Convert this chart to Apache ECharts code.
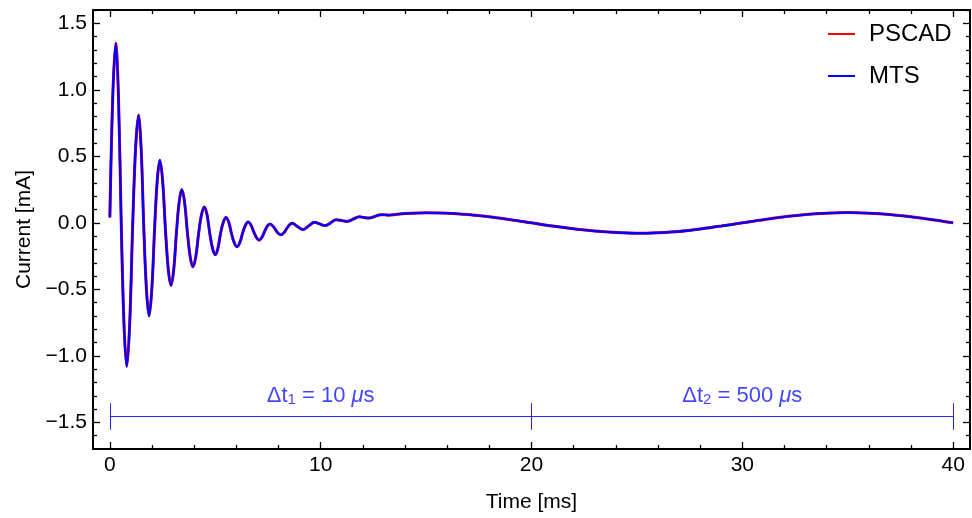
<!DOCTYPE html>
<html>
<head>
<meta charset="utf-8">
<script src="https://cdn.jsdelivr.net/npm/echarts@6/dist/echarts.min.js"></script>
<style>
html,body{margin:0;padding:0;background:#fff;}
#chart{width:972px;height:518px;}
</style>
</head>
<body>
<div id="chart"></div>
<script>
// ---- data ----
const timeMs = [
  0, 0.14, 0.28, 0.41, 0.54, 0.67, 0.80, 0.94, 1.08, 1.22, 1.36, 1.485, 1.61, 1.735, 1.86, 1.99,
  2.12, 2.245, 2.37, 2.505, 2.64, 2.77, 2.90, 3.03, 3.16, 3.285, 3.41, 3.545, 3.68, 3.81, 3.94, 4.075,
  4.21, 4.345, 4.48, 4.61, 4.74, 4.87, 5.00, 5.125, 5.25, 5.38, 5.51, 5.64, 5.77, 5.90, 6.03, 6.165,
  6.30, 6.43, 6.56, 6.69, 6.82, 6.95, 7.08, 7.21, 7.34, 7.465, 7.59, 7.72, 7.85, 7.98, 8.11, 8.245,
  8.38, 8.515, 8.65, 8.90, 9.16, 9.44, 9.70, 9.95, 10.21, 10.47, 10.73, 11.00, 11.26, 11.54, 11.83, 12.06,
  12.29, 12.57, 12.85, 13.05, 13.25, 13.6, 14, 15, 16, 17, 18, 19, 20, 21, 22, 23, 24, 25, 26, 27,
  28, 29, 30, 31, 32, 33, 34, 35, 36, 37, 38, 39, 40
];
const pscadCurrent = [
  0.04, 0.96, 1.35, 0.94, -0.01, -0.76, -1.08, -0.76, -0.03, 0.56, 0.81, 0.555, -0.04, -0.50, -0.70, -0.50,
  -0.05, 0.314, 0.47, 0.311, -0.06, -0.347, -0.47, -0.35, -0.07, 0.154, 0.25, 0.153, -0.075, -0.254, -0.33, -0.255,
  -0.08, 0.06, 0.12, 0.06, -0.08, -0.192, -0.24, -0.192, -0.08, 0.004, 0.04, 0.004, -0.08, -0.15, -0.18, -0.148,
  -0.075, -0.018, 0.006, -0.016, -0.065, -0.11, -0.13, -0.11, -0.065, -0.025, -0.008, -0.022, -0.05, -0.078, -0.09, -0.076,
  -0.045, -0.016, -0.003, -0.028, -0.05, -0.022, 0.005, -0.008, -0.02, 0.0, 0.024, 0.017, 0.011, 0.028, 0.046, 0.04,
  0.036, 0.048, 0.061, 0.06, 0.058, 0.064, 0.07, 0.075, 0.073, 0.062, 0.045, 0.024, 0.0, -0.024, -0.045, -0.062, -0.073, -0.078, -0.074, -0.065,
  -0.046, -0.024, 0.0, 0.024, 0.045, 0.062, 0.073, 0.077, 0.073, 0.062, 0.045, 0.024, 0.0
];
// MTS overlaps PSCAD everywhere at this resolution
const mtsCurrent = [
  0.04, 0.96, 1.35, 0.94, -0.01, -0.76, -1.08, -0.76, -0.03, 0.56, 0.81, 0.555, -0.04, -0.50, -0.70, -0.50,
  -0.05, 0.314, 0.47, 0.311, -0.06, -0.347, -0.47, -0.35, -0.07, 0.154, 0.25, 0.153, -0.075, -0.254, -0.33, -0.255,
  -0.08, 0.06, 0.12, 0.06, -0.08, -0.192, -0.24, -0.192, -0.08, 0.004, 0.04, 0.004, -0.08, -0.15, -0.18, -0.148,
  -0.075, -0.018, 0.006, -0.016, -0.065, -0.11, -0.13, -0.11, -0.065, -0.025, -0.008, -0.022, -0.05, -0.078, -0.09, -0.076,
  -0.045, -0.016, -0.003, -0.028, -0.05, -0.022, 0.005, -0.008, -0.02, 0.0, 0.024, 0.017, 0.011, 0.028, 0.046, 0.04,
  0.036, 0.048, 0.061, 0.06, 0.058, 0.064, 0.07, 0.075, 0.073, 0.062, 0.045, 0.024, 0.0, -0.024, -0.045, -0.062, -0.073, -0.078, -0.074, -0.065,
  -0.046, -0.024, 0.0, 0.024, 0.045, 0.062, 0.073, 0.077, 0.073, 0.062, 0.045, 0.024, 0.0
];
const seriesNames = ['PSCAD', 'MTS'];
const xMajorTicks = [0, 10, 20, 30, 40];
const xMinorTicks = [2, 4, 6, 8, 12, 14, 16, 18, 22, 24, 26, 28, 32, 34, 36, 38];
const yMajorTicks = [-1.5, -1.0, -0.5, 0.0, 0.5, 1.0, 1.5];
const yMinorTicks = [-1.6, -1.4, -1.3, -1.2, -1.1, -0.9, -0.8, -0.7, -0.6, -0.4, -0.3, -0.2, -0.1,
  0.1, 0.2, 0.3, 0.4, 0.6, 0.7, 0.8, 0.9, 1.1, 1.2, 1.3, 1.4, 1.6];
// step-size annotation
const stepBounds = [0, 20, 40];
const stepLabels = [['1', '10'], ['2', '500']];
const stepBarY = -1.456;
const stepTickHalf = 0.1;
const stepLabelY = -1.30;

// ---- chart ----
const FONT = "'Liberation Sans', Arial, sans-serif";
const ANN = '#2323ff';
const ANN_TEXT = '#1515ff';
const chart = echarts.init(document.getElementById('chart'), null, {renderer: 'canvas'});

function pairs(xs, ys) { return xs.map((x, i) => [x, ys[i]]); }

function xAxisDef(pos, ticks, len, line, labels, extra) {
  return Object.assign({
    type: 'value', position: pos, min: -0.8, max: 40.8,
    axisLine: {show: line, onZero: false, lineStyle: {color: '#000', width: 2}},
    axisTick: {show: true, inside: true, length: len, customValues: ticks, lineStyle: {color: '#000', width: 1.3}},
    axisLabel: labels ? {show: true, customValues: ticks, color: '#000', fontSize: 21, fontFamily: FONT, margin: 6,
      formatter: v => String(v)} : {show: false},
    splitLine: {show: false}
  }, extra || {});
}
function yAxisDef(pos, ticks, len, line, labels, extra) {
  return Object.assign({
    type: 'value', position: pos, min: -1.7, max: 1.6,
    axisLine: {show: line, onZero: false, lineStyle: {color: '#000', width: 2}},
    axisTick: {show: true, inside: true, length: len, customValues: ticks, lineStyle: {color: '#000', width: 1.3}},
    axisLabel: labels ? {show: true, customValues: ticks, color: '#000', fontSize: 21, fontFamily: FONT, margin: 6,
      formatter: v => (v < 0 ? '\u2212' : '') + Math.abs(v).toFixed(1)} : {show: false},
    splitLine: {show: false}
  }, extra || {});
}

const stepSegments = [];
for (let i = 0; i < stepBounds.length; i++) {
  stepSegments.push([{coord: [stepBounds[i], stepBarY + stepTickHalf]}, {coord: [stepBounds[i], stepBarY - stepTickHalf]}]);
}
const labelPoints = stepLabels.map((l, i) => ({
  value: [(stepBounds[i] + stepBounds[i + 1]) / 2, stepLabelY],
  sub: l[0], num: l[1]
}));

chart.setOption({
  animation: false,
  backgroundColor: '#fff',
  textStyle: {fontFamily: FONT},
  grid: {left: 93, right: 2, top: 10, bottom: 69, containLabel: false},
  legend: {
    data: seriesNames, orient: 'vertical', left: 828, top: 22, padding: 0,
    icon: 'rect', itemWidth: 27, itemHeight: 2, itemGap: 18,
    textStyle: {fontSize: 24, color: '#000', fontFamily: FONT, padding: [0, 0, 0, 9]}
  },
  xAxis: [
    xAxisDef('bottom', xMajorTicks, 7, true, true, {
      name: 'Time [ms]', nameLocation: 'middle', nameGap: 43,
      nameTextStyle: {fontSize: 21, color: '#000', fontFamily: FONT}
    }),
    xAxisDef('bottom', xMinorTicks, 4, false, false),
    xAxisDef('top', xMajorTicks, 7, true, false),
    xAxisDef('top', xMinorTicks, 4, false, false)
  ],
  yAxis: [
    yAxisDef('left', yMajorTicks, 7, true, true, {
      name: 'Current [mA]', nameLocation: 'middle', nameGap: 58, nameRotate: 90,
      nameTextStyle: {fontSize: 21, color: '#000', fontFamily: FONT}
    }),
    yAxisDef('left', yMinorTicks, 4, false, false),
    yAxisDef('right', yMajorTicks, 7, true, false),
    yAxisDef('right', yMinorTicks, 4, false, false)
  ],
  series: [
    {
      name: seriesNames[0], type: 'line', data: pairs(timeMs, pscadCurrent),
      symbol: 'none', smooth: 0.35, lineStyle: {color: '#ff0000', width: 3}, itemStyle: {color: '#ff0000'}, z: 2
    },
    {
      name: seriesNames[1], type: 'line', data: pairs(timeMs, mtsCurrent),
      symbol: 'none', smooth: 0.35, lineStyle: {color: '#0000ff', width: 2.4}, itemStyle: {color: '#0000ff'}, z: 3
    },
    {
      name: 'steps', type: 'line', data: [[stepBounds[0], stepBarY], [stepBounds[stepBounds.length - 1], stepBarY]],
      symbol: 'none', lineStyle: {color: ANN, width: 1}, silent: true, z: 4,
      markLine: {
        silent: true, symbol: ['none', 'none'], label: {show: false},
        lineStyle: {color: ANN, width: 1, type: 'solid'}, data: stepSegments
      }
    },
    {
      name: 'stepLabels', type: 'scatter', data: labelPoints, symbolSize: 0, silent: true, z: 5,
      label: {
        show: true, position: 'inside',
        formatter: p => '{a|\u0394t}{s|' + p.data.sub + '}{a| = ' + p.data.num + ' }{i|\u03bc}{a|s}',
        rich: {
          a: {fontSize: 22, color: ANN_TEXT, fontFamily: FONT},
          s: {fontSize: 15, color: ANN_TEXT, fontFamily: FONT, padding: [8, 0, 0, 0]},
          i: {fontSize: 22, color: ANN_TEXT, fontFamily: FONT, fontStyle: 'italic'}
        }
      }
    }
  ]
});
</script>
</body>
</html>
